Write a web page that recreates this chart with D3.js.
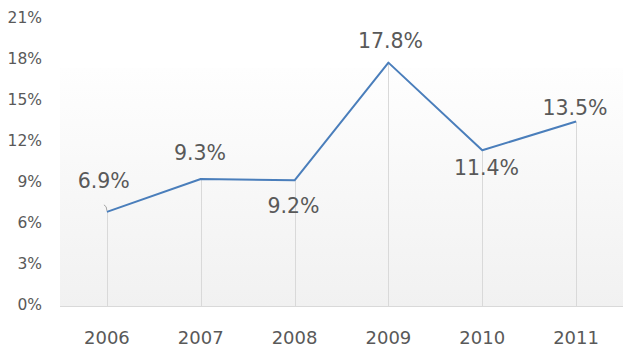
<!DOCTYPE html>
<html><head><meta charset="utf-8">
<script src="https://cdn.jsdelivr.net/npm/d3@7"></script>
<style>html,body{margin:0;padding:0;background:#fff}svg{display:block}</style>
</head><body>
<svg id="c" width="633" height="358"></svg>
<script>
const years = ["2006","2007","2008","2009","2010","2011"];
const values = [6.9, 9.3, 9.2, 17.8, 11.4, 13.5];
const yTicks = [0,3,6,9,12,15,18,21];

// label layout offsets (pixels, relative to point)
const labelDx = [-3.2, -0.8, -1.1, 2.1, 4.2, -1.1];
const labelDy = [-23.5, -19, 32.6, -14.4, 24.8, -6.5];

const svg = d3.select("#c");
const L = 60, R = 623, B = 306.3;
const x = d3.scaleBand().domain(years).range([L, R]);
const y = d3.scaleLinear().domain([0, 21]).range([B, B - 21*13.69]);
const font = "'DejaVu Sans', Verdana, sans-serif";

const defs = svg.append("defs");
const g = defs.append("linearGradient").attr("id","bg").attr("x1",0).attr("y1",0).attr("x2",0).attr("y2",1);
g.append("stop").attr("offset","0%").attr("stop-color","#fefefe");
g.append("stop").attr("offset","100%").attr("stop-color","#f1f1f1");
svg.append("rect").attr("x",L).attr("y",68).attr("width",R-L).attr("height",306-68).attr("fill","url(#bg)");

// y axis labels
svg.append("g").selectAll("text").data(yTicks).join("text")
  .attr("x", 42).attr("y", d => y(d) - 1.4).attr("dy","0.36em")
  .attr("text-anchor","end").attr("font-family",font).attr("font-size",15.5).attr("fill","#595959")
  .text(d => d + "%");

// x axis labels
svg.append("g").selectAll("text").data(years).join("text")
  .attr("x", d => x(d) + x.bandwidth()/2).attr("y", 344)
  .attr("text-anchor","middle").attr("font-family",font).attr("font-size",18).attr("fill","#595959")
  .text(d => d);

const pts = years.map((d,i) => ({year:d, v:values[i], i}));
const cx = d => x(d.year) + x.bandwidth()/2;

// drop lines
svg.append("g").selectAll("line").data(pts).join("line")
  .attr("x1", d => Math.round(cx(d)) + 0.5).attr("x2", d => Math.round(cx(d)) + 0.5)
  .attr("y1", d => y(d.v)).attr("y2", 306)
  .attr("stroke","#d9d9d9").attr("stroke-width",1);

// axis line
svg.append("line").attr("x1",L).attr("x2",R).attr("y1",306.5).attr("y2",306.5).attr("stroke","#d9d9d9").attr("stroke-width",1);

// leader line for first label
svg.append("path")
  .attr("d", `M${cx(pts[0]) - 3},${y(pts[0].v) - 7} Q${cx(pts[0])},${y(pts[0].v) - 6} ${cx(pts[0])},${y(pts[0].v) - 1}`)
  .attr("fill","none").attr("stroke","#a6a6a6").attr("stroke-width",1);

// line
svg.append("path").datum(pts)
  .attr("d", d3.line().x(cx).y(d => y(d.v)))
  .attr("fill","none").attr("stroke","#4a7ebb").attr("stroke-width",2).attr("stroke-linejoin","round");

// data labels
svg.append("g").selectAll("text").data(pts).join("text")
  .attr("x", d => cx(d) + labelDx[d.i])
  .attr("y", d => y(d.v) + labelDy[d.i])
  .attr("text-anchor","middle").attr("font-family",font).attr("font-size",20.5).attr("fill","#595959")
  .text(d => d.v.toFixed(1) + "%");
</script>
</body></html>
